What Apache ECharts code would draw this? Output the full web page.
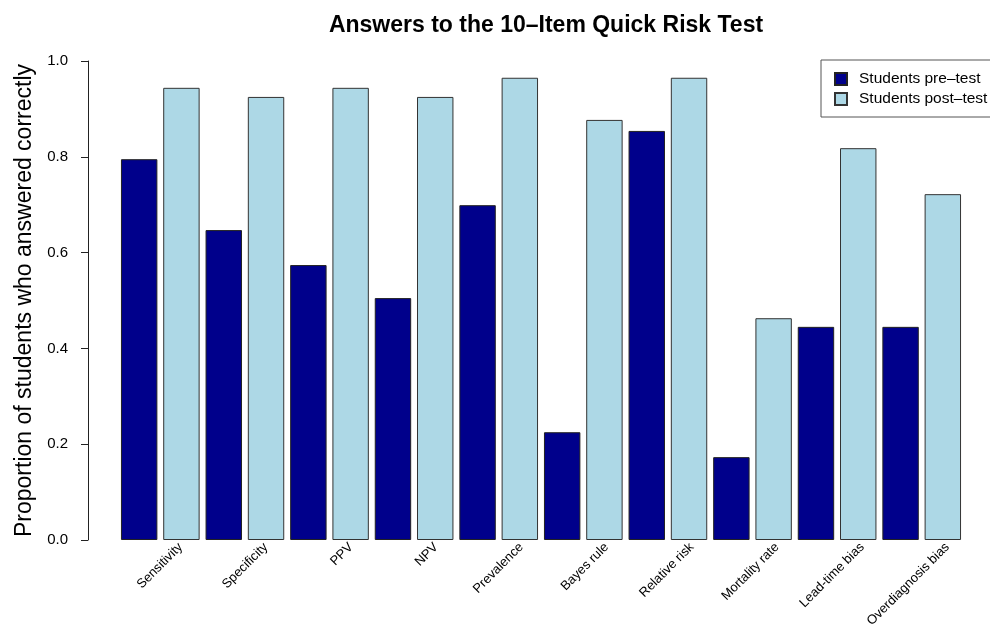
<!DOCTYPE html>
<html>
<head>
<meta charset="utf-8">
<script src="https://cdn.jsdelivr.net/npm/echarts@6/dist/echarts.min.js"></script>
<style>
  html, body { margin: 0; padding: 0; background: #fff; }
  #chart { width: 990px; height: 630px; }
</style>
</head>
<body>
<div id="chart"></div>
<script>
// Quick Risk Test answers
const items = ['Sensitivity', 'Specificity', 'PPV', 'NPV', 'Prevalence', 'Bayes rule',
    'Relative risk', 'Mortality rate', 'Lead-time bias', 'Overdiagnosis bias'];
const preTest = [0.795, 0.647, 0.574, 0.505, 0.699, 0.225, 0.854, 0.173, 0.445, 0.445];
const postTest = [0.944, 0.925, 0.944, 0.925, 0.965, 0.877, 0.965, 0.463, 0.818, 0.722];
const yTicks = [0, 0.2, 0.4, 0.6, 0.8, 1.0];

const font = '"Liberation Sans", Arial, Helvetica, sans-serif';
const chart = echarts.init(document.getElementById('chart'));

chart.setOption({
    animation: false,
    textStyle: { fontFamily: font, color: '#000' },
    title: {
        text: 'Answers to the 10–Item Quick Risk Test',
        left: 541,
        textAlign: 'center',
        top: 9,
        textStyle: { fontSize: 23, fontWeight: 'bold', color: '#000', fontFamily: font }
    },
    legend: {
        orient: 'vertical',
        left: 821,
        top: 60,
        padding: [11, 12, 10, 13],
        itemWidth: 12,
        itemHeight: 12,
        itemGap: 4,
        icon: 'rect',
        borderColor: '#555',
        borderWidth: 1,
        textStyle: { fontSize: 15.5, color: '#000', padding: [0, 0, 0, 7] },
        data: ['Students pre–test', 'Students post–test']
    },
    grid: [
        { left: 118, right: 26, top: 61, bottom: 90 },
        // plot area shifted/stretched a bit, only used to place the slanted item labels
        { left: 138, right: -10, top: 61, bottom: 90 }
    ],
    xAxis: [{
        type: 'category',
        gridIndex: 0,
        data: items,
        axisLine: { show: false },
        axisTick: { show: false },
        axisLabel: { show: false }
    }, {
        type: 'category',
        gridIndex: 1,
        data: items,
        axisLine: { show: false },
        axisTick: { show: false },
        axisLabel: { rotate: 45, fontSize: 13, color: '#000', margin: 11, interval: 0 }
    }],
    yAxis: [{
        type: 'value',
        gridIndex: 0,
        min: 0,
        max: 1,
        interval: 0.2,
        offset: 30,
        name: 'Proportion of students who answered correctly',
        nameLocation: 'middle',
        nameGap: 52,
        nameTextStyle: { fontSize: 23, color: '#000' },
        axisLine: { show: true, lineStyle: { color: '#222' } },
        axisTick: { show: true, length: 7, lineStyle: { color: '#222' } },
        axisLabel: {
            fontSize: 15,
            color: '#000',
            margin: 20,
            formatter: v => yTicks.includes(+v.toFixed(1)) ? v.toFixed(1) : ''
        },
        splitLine: { show: false }
    }, {
        type: 'value',
        gridIndex: 1,
        min: 0,
        max: 1,
        show: false
    }],
    series: [{
        name: 'Students pre–test',
        type: 'bar',
        data: preTest,
        barGap: '16%',
        barCategoryGap: '7%',
        itemStyle: { color: '#00008B', borderColor: '#222', borderWidth: 1 }
    }, {
        name: 'Students post–test',
        type: 'bar',
        data: postTest,
        itemStyle: { color: '#ADD8E6', borderColor: '#333', borderWidth: 1 }
    }]
});
</script>
</body>
</html>
